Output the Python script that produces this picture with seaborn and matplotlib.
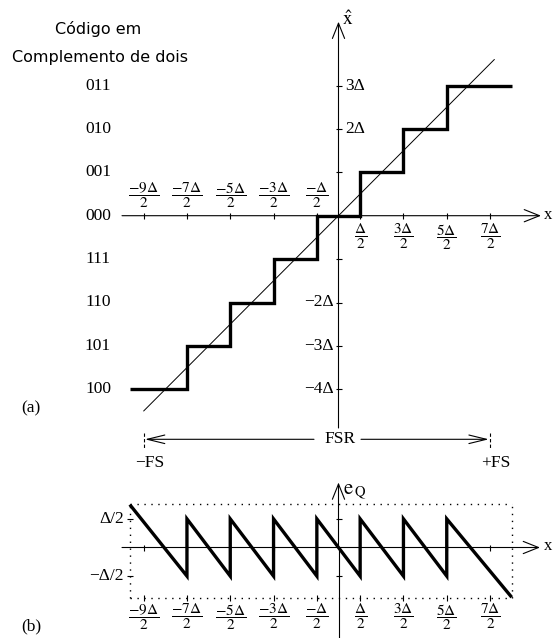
import matplotlib
matplotlib.use("Agg")
import matplotlib.pyplot as plt
import seaborn as sns

# ---------------- data (in units of Delta) ----------------
half_ticks = [-4.5, -3.5, -2.5, -1.5, -0.5, 0.5, 1.5, 2.5, 3.5]
half_labels = [r"$\dfrac{-9\Delta}{2}$", r"$\dfrac{-7\Delta}{2}$", r"$\dfrac{-5\Delta}{2}$",
               r"$\dfrac{-3\Delta}{2}$", r"$\dfrac{-\Delta}{2}$", r"$\dfrac{\Delta}{2}$",
               r"$\dfrac{3\Delta}{2}$", r"$\dfrac{5\Delta}{2}$", r"$\dfrac{7\Delta}{2}$"]
codes = ["011", "010", "001", "000", "111", "110", "101", "100"]
levels = [3, 2, 1, 0, -1, -2, -3, -4]
level_ticks = [3, 2, 1, -1, -2, -3, -4]
level_tick_labels = ["3Δ", "2Δ", "", "", "−2Δ", "−3Δ", "−4Δ"]
stair_x = [-4.82, -3.5, -2.5, -1.5, -0.5, 0.5, 1.5, 2.5, 4.0]
stair_y = [-4, -3, -2, -1, 0, 1, 2, 3, 3]
ideal_x = [-4.5, 3.6]
ideal_y = [-4.5, 3.6]
err_x = [-4.82, -3.5, -3.5, -2.5, -2.5, -1.5, -1.5, -0.5, -0.5, 0.5, 0.5,
         1.5, 1.5, 2.5, 2.5, 4.0]
err_y = [0.75, -0.5, 0.5, -0.5, 0.5, -0.5, 0.5, -0.5, 0.5, -0.5, 0.5,
         -0.5, 0.5, -0.5, 0.5, -0.87]
err_ticks = [0.5, -0.5]
err_tick_labels = ["Δ/2", "−Δ/2"]
box_x = [-4.82, 4.0]
box_y = [-0.88, 0.76]
fs_ends = [-4.5, 3.5]
fs_labels = ["−FS", "+FS"]

# ---------------- style ----------------
sns.set_theme(style="white")
plt.rcParams["font.family"] = ["Liberation Serif", "DejaVu Serif"]
plt.rcParams["mathtext.fontset"] = "stix"

W, H = 553, 638
fig = plt.figure(figsize=(W / 100, H / 100), dpi=100)
fig.patch.set_facecolor("white")

X0, SX = 338.5, 43.3
Y0A, SYA = 215.7, 43.4
Y0B, SYB = 547.5, 57.2
SPLIT = 470

ax1 = fig.add_axes([0, (H - SPLIT) / H, 1, SPLIT / H])
ax2 = fig.add_axes([0, 0, 1, (H - SPLIT) / H])
xl = (-X0 / SX, (W - X0) / SX)
ax1.set_xlim(*xl)
ax1.set_ylim(-(SPLIT - Y0A) / SYA, Y0A / SYA)
ax2.set_xlim(*xl)
ax2.set_ylim(-(H - Y0B) / SYB, (Y0B - SPLIT) / SYB)
for a in (ax1, ax2):
    a.set_axis_off()
    a.patch.set_alpha(0)


def pa(xp, yp):
    return (xp - X0) / SX, (Y0A - yp) / SYA


def pb(xp, yp):
    return (xp - X0) / SX, (Y0B - yp) / SYB


K = "black"
ALW = 0.8
FS = 12.5
FR = 11


def arrow(ax, start, tip, ms=20, style="->,head_length=0.55,head_width=0.22"):
    ax.annotate("", xy=tip, xytext=start, annotation_clip=False,
                arrowprops=dict(arrowstyle=style, lw=ALW, color=K,
                                shrinkA=0, shrinkB=0, mutation_scale=ms))


# ================= (a) transfer characteristic =================
arrow(ax1, pa(122, Y0A), pa(541, Y0A))
arrow(ax1, pa(X0, 428), pa(X0, 21.7))
ax1.text(*pa(544, Y0A - 1), "x", ha="left", va="center", fontsize=12, color=K)
ax1.text(*pa(342, 20), r"$\hat{\mathrm{x}}$", ha="left", va="center", fontsize=14, color=K)

tx = 3 / SX
ty = 3 / SYA
ax1.vlines(half_ticks, -ty, ty, color=K, lw=ALW)
ax1.hlines(level_ticks, -tx, tx, color=K, lw=ALW)

for xv, lab in zip(half_ticks, half_labels):
    if xv < 0:
        ax1.text(xv, 0.47, lab, ha="center", va="center", fontsize=FR, color=K)
    else:
        ax1.text(xv, -0.49, lab, ha="center", va="center", fontsize=FR, color=K)

for yv, lab in zip(level_ticks, level_tick_labels):
    if not lab:
        continue
    if yv > 0:
        ax1.text(0.16, yv, lab, ha="left", va="center", fontsize=FS, color=K)
    else:
        ax1.text(-0.12, yv, lab, ha="right", va="center", fontsize=FS, color=K)

for c, yv in zip(codes, levels):
    ax1.text((98 - X0) / SX, yv, c, ha="center", va="center", fontsize=FS, color=K)

ax1.text(*pa(98, 29), "Código em", ha="center", va="center", fontsize=11.5,
         family=["DejaVu Sans"], color=K)
ax1.text(*pa(100, 57), "Complemento de dois", ha="center", va="center", fontsize=11.5,
         family=["DejaVu Sans"], color=K)

sns.lineplot(x=ideal_x, y=ideal_y, ax=ax1, color=K, lw=0.7, estimator=None, sort=False)
sns.lineplot(x=stair_x, y=stair_y, ax=ax1, color=K, lw=2.4, drawstyle="steps-post",
             estimator=None, sort=False, solid_joinstyle="miter", solid_capstyle="butt")

ax1.text(*pa(31, 408), "(a)", ha="center", va="center", fontsize=FS, color=K)

# FSR row
yfs = (Y0A - 439.3) / SYA
ax1.vlines(fs_ends, (Y0A - 432.7) / SYA, (Y0A - 449) / SYA, color=K, lw=0.8,
           linestyles=(0, (3, 2)))
arrow(ax1, ((314 - X0) / SX, yfs), (fs_ends[0] + 0.03, yfs), ms=14,
      style="->,head_length=0.9,head_width=0.22")
arrow(ax1, ((361 - X0) / SX, yfs), (fs_ends[1] - 0.03, yfs), ms=14,
      style="->,head_length=0.9,head_width=0.22")
ax1.text(*pa(340, 439.3), "FSR", ha="center", va="center", fontsize=FS, color=K)
for xv, lab in zip(fs_ends, fs_labels):
    ax1.text(xv + 0.14, (Y0A - 463) / SYA, lab, ha="center", va="center", fontsize=FS, color=K)

# ================= (b) quantization error =================
arrow(ax2, pb(122, Y0B), pb(540, Y0B))
ax2.plot([0, 0], [(Y0B - H) / SYB, 0], color=K, lw=ALW, clip_on=False)
arrow(ax2, (0, 0), pb(X0, 482.5))
ax2.text(*pb(544, Y0B - 1), "x", ha="left", va="center", fontsize=12, color=K)
ax2.text(*pb(343, 492), r"$\mathrm{e}_{\,\mathrm{Q}}$", ha="left", va="center",
         fontsize=15, color=K)

ax2.vlines(half_ticks, -3 / SYB, 3 / SYB, color=K, lw=ALW)
ax2.hlines(err_ticks, -tx, tx, color=K, lw=ALW)

# dotted box
dots = (0, (1, 4))
ax2.hlines(box_y, box_x[0], box_x[1], color=K, lw=1.0, linestyles=dots)
ax2.vlines(box_x, box_y[0], box_y[1], color=K, lw=1.0, linestyles=dots)
ax2.hlines(err_ticks, box_x[0] - tx, box_x[0] + tx, color=K, lw=ALW)
ax2.vlines(half_ticks, box_y[0] - 3 / SYB, box_y[0] + 3 / SYB, color=K, lw=ALW)

for yv, lab in zip(err_ticks, err_tick_labels):
    ax2.text((124 - X0) / SX, yv, lab, ha="right", va="center", fontsize=FS, color=K)

for xv, lab in zip(half_ticks, half_labels):
    ax2.text(xv, (Y0B - 617) / SYB, lab, ha="center", va="center", fontsize=FR, color=K)

sns.lineplot(x=err_x, y=err_y, ax=ax2, color=K, lw=2.4, estimator=None, sort=False,
             solid_joinstyle="miter", solid_capstyle="butt")

ax2.text(*pb(31, 626), "(b)", ha="center", va="center", fontsize=FS, color=K)

for a in (ax1, ax2):
    if a.get_legend() is not None:
        a.get_legend().remove()

fig.savefig("out.png", dpi=100, facecolor="white")
